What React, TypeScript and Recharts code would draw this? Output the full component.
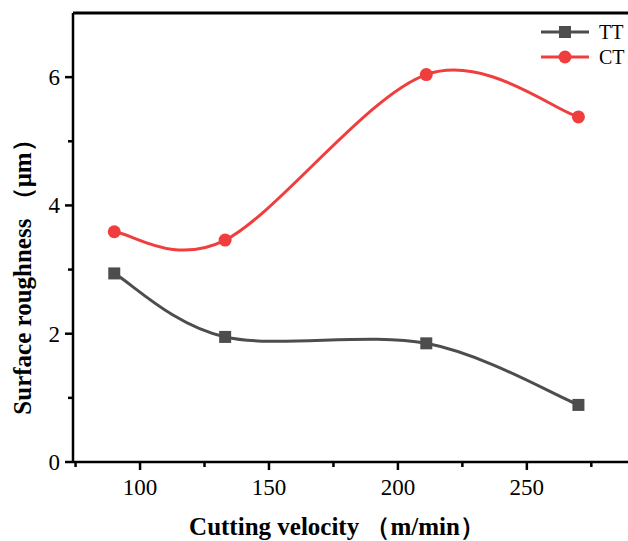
import React from 'react';
import { LineChart, Line, XAxis, YAxis, ReferenceLine } from 'recharts';

const velocity = [90, 133, 211, 270];
const ttValues = [2.94, 1.95, 1.85, 0.89];
const ctValues = [3.59, 3.46, 6.04, 5.38];
const xTicks = [75, 100, 125, 150, 175, 200, 225, 250, 275];
const yTicks = [0, 1, 2, 3, 4, 5, 6, 7];
const xMajor = [100, 150, 200, 250];
const yMajor = [0, 2, 4, 6];

const TT_COLOR = '#4d4d4d';
const CT_COLOR = '#f03e3e';
const FONT = '"Liberation Serif", "Times New Roman", serif';

const data = velocity.map((v, i) => ({ v, tt: ttValues[i], ct: ctValues[i] }));

// uniform Catmull-Rom spline, close to the smoothing used in the original plot
const catmullRom = (context: any) => {
  let pts: number[][] = [];
  return {
    areaStart() {},
    areaEnd() {},
    lineStart() {
      pts = [];
    },
    point(x: number, y: number) {
      pts.push([+x, +y]);
    },
    lineEnd() {
      const n = pts.length;
      if (!n) return;
      context.moveTo(pts[0][0], pts[0][1]);
      for (let i = 0; i < n - 1; i++) {
        const p0 = pts[Math.max(i - 1, 0)];
        const p1 = pts[i];
        const p2 = pts[i + 1];
        const p3 = pts[Math.min(i + 2, n - 1)];
        context.bezierCurveTo(
          p1[0] + (p2[0] - p0[0]) / 6,
          p1[1] + (p2[1] - p0[1]) / 6,
          p2[0] - (p3[0] - p1[0]) / 6,
          p2[1] - (p3[1] - p1[1]) / 6,
          p2[0],
          p2[1]
        );
      }
    },
  };
};

const XTick = (props: any) => {
  const { x, y, payload } = props;
  const major = xMajor.includes(payload.value);
  return (
    <g>
      <line x1={x} y1={y} x2={x} y2={y + (major ? 8 : 5)} stroke="#000" strokeWidth={2.5} />
      {major && (
        <text x={x} y={y + 33} textAnchor="middle" fontSize={23} fontFamily={FONT} fill="#000">
          {payload.value}
        </text>
      )}
    </g>
  );
};

const YTick = (props: any) => {
  const { x, y, payload } = props;
  const major = yMajor.includes(payload.value);
  if (payload.value === 7) return null;
  return (
    <g>
      <line x1={x} y1={y} x2={x - (major ? 8 : 5)} y2={y} stroke="#000" strokeWidth={2.5} />
      {major && (
        <text x={x - 13} y={y + 8} textAnchor="end" fontSize={23} fontFamily={FONT} fill="#000">
          {payload.value}
        </text>
      )}
    </g>
  );
};

const SquareDot = (props: any) => {
  const { cx, cy } = props;
  return <rect x={cx - 6} y={cy - 6} width={12} height={12} fill={TT_COLOR} />;
};

const CircleDot = (props: any) => {
  const { cx, cy } = props;
  return <circle cx={cx} cy={cy} r={6.5} fill={CT_COLOR} />;
};

const LegendBox = () => (
  <svg width={87} height={60} style={{ position: 'absolute', left: 541, top: 22 }}>
    <line x1={0} y1={10} x2={48} y2={10} stroke={TT_COLOR} strokeWidth={3} />
    <rect x={18} y={4} width={12} height={12} fill={TT_COLOR} />
    <text x={58} y={17} fontSize={20} fontFamily={FONT} fill="#000">TT</text>
    <line x1={0} y1={35} x2={48} y2={35} stroke={CT_COLOR} strokeWidth={3} />
    <circle cx={24} cy={35} r={6.5} fill={CT_COLOR} />
    <text x={58} y={42} fontSize={20} fontFamily={FONT} fill="#000">CT</text>
  </svg>
);

const AxisTitles = () => (
  <svg width={628} height={541} style={{ position: 'absolute', left: 0, top: 0, pointerEvents: 'none' }}>
    <text x={337} y={535} textAnchor="middle" fontSize={25} fontWeight="bold" fontFamily={FONT} fill="#000">
      Cutting velocity （m/min）
    </text>
    <text
      x={31}
      y={271}
      transform="rotate(-90, 31, 271)"
      textAnchor="middle"
      fontSize={25}
      fontWeight="bold"
      fontFamily={FONT}
      fill="#000"
    >
      Surface roughness （μm）
    </text>
  </svg>
);

export default function App() {
  return (
    <div style={{ position: 'absolute', left: 0, top: 0, width: 628, height: 541, overflow: 'hidden', background: '#fff' }}>
      <LineChart width={630} height={541} data={data} margin={{ top: 13, right: 0, bottom: 0, left: 0 }}>
        <XAxis
          dataKey="v"
          type="number"
          domain={[74, 290]}
          ticks={xTicks}
          tick={<XTick />}
          tickLine={false}
          tickSize={0}
          tickMargin={0}
          axisLine={{ stroke: '#000', strokeWidth: 2.5 }}
          height={79}
        />
        <YAxis
          type="number"
          domain={[0, 7]}
          ticks={yTicks}
          tick={<YTick />}
          tickLine={false}
          tickSize={0}
          tickMargin={0}
          axisLine={{ stroke: '#000', strokeWidth: 2.5 }}
          width={73}
        />
        <ReferenceLine y={7} stroke="#000" strokeWidth={3} />
        <Line type={catmullRom as any} dataKey="tt" stroke={TT_COLOR} strokeWidth={3} dot={<SquareDot />} activeDot={false} isAnimationActive={false} />
        <Line type={catmullRom as any} dataKey="ct" stroke={CT_COLOR} strokeWidth={3} dot={<CircleDot />} activeDot={false} isAnimationActive={false} />
      </LineChart>
      <AxisTitles />
      <LegendBox />
    </div>
  );
}
